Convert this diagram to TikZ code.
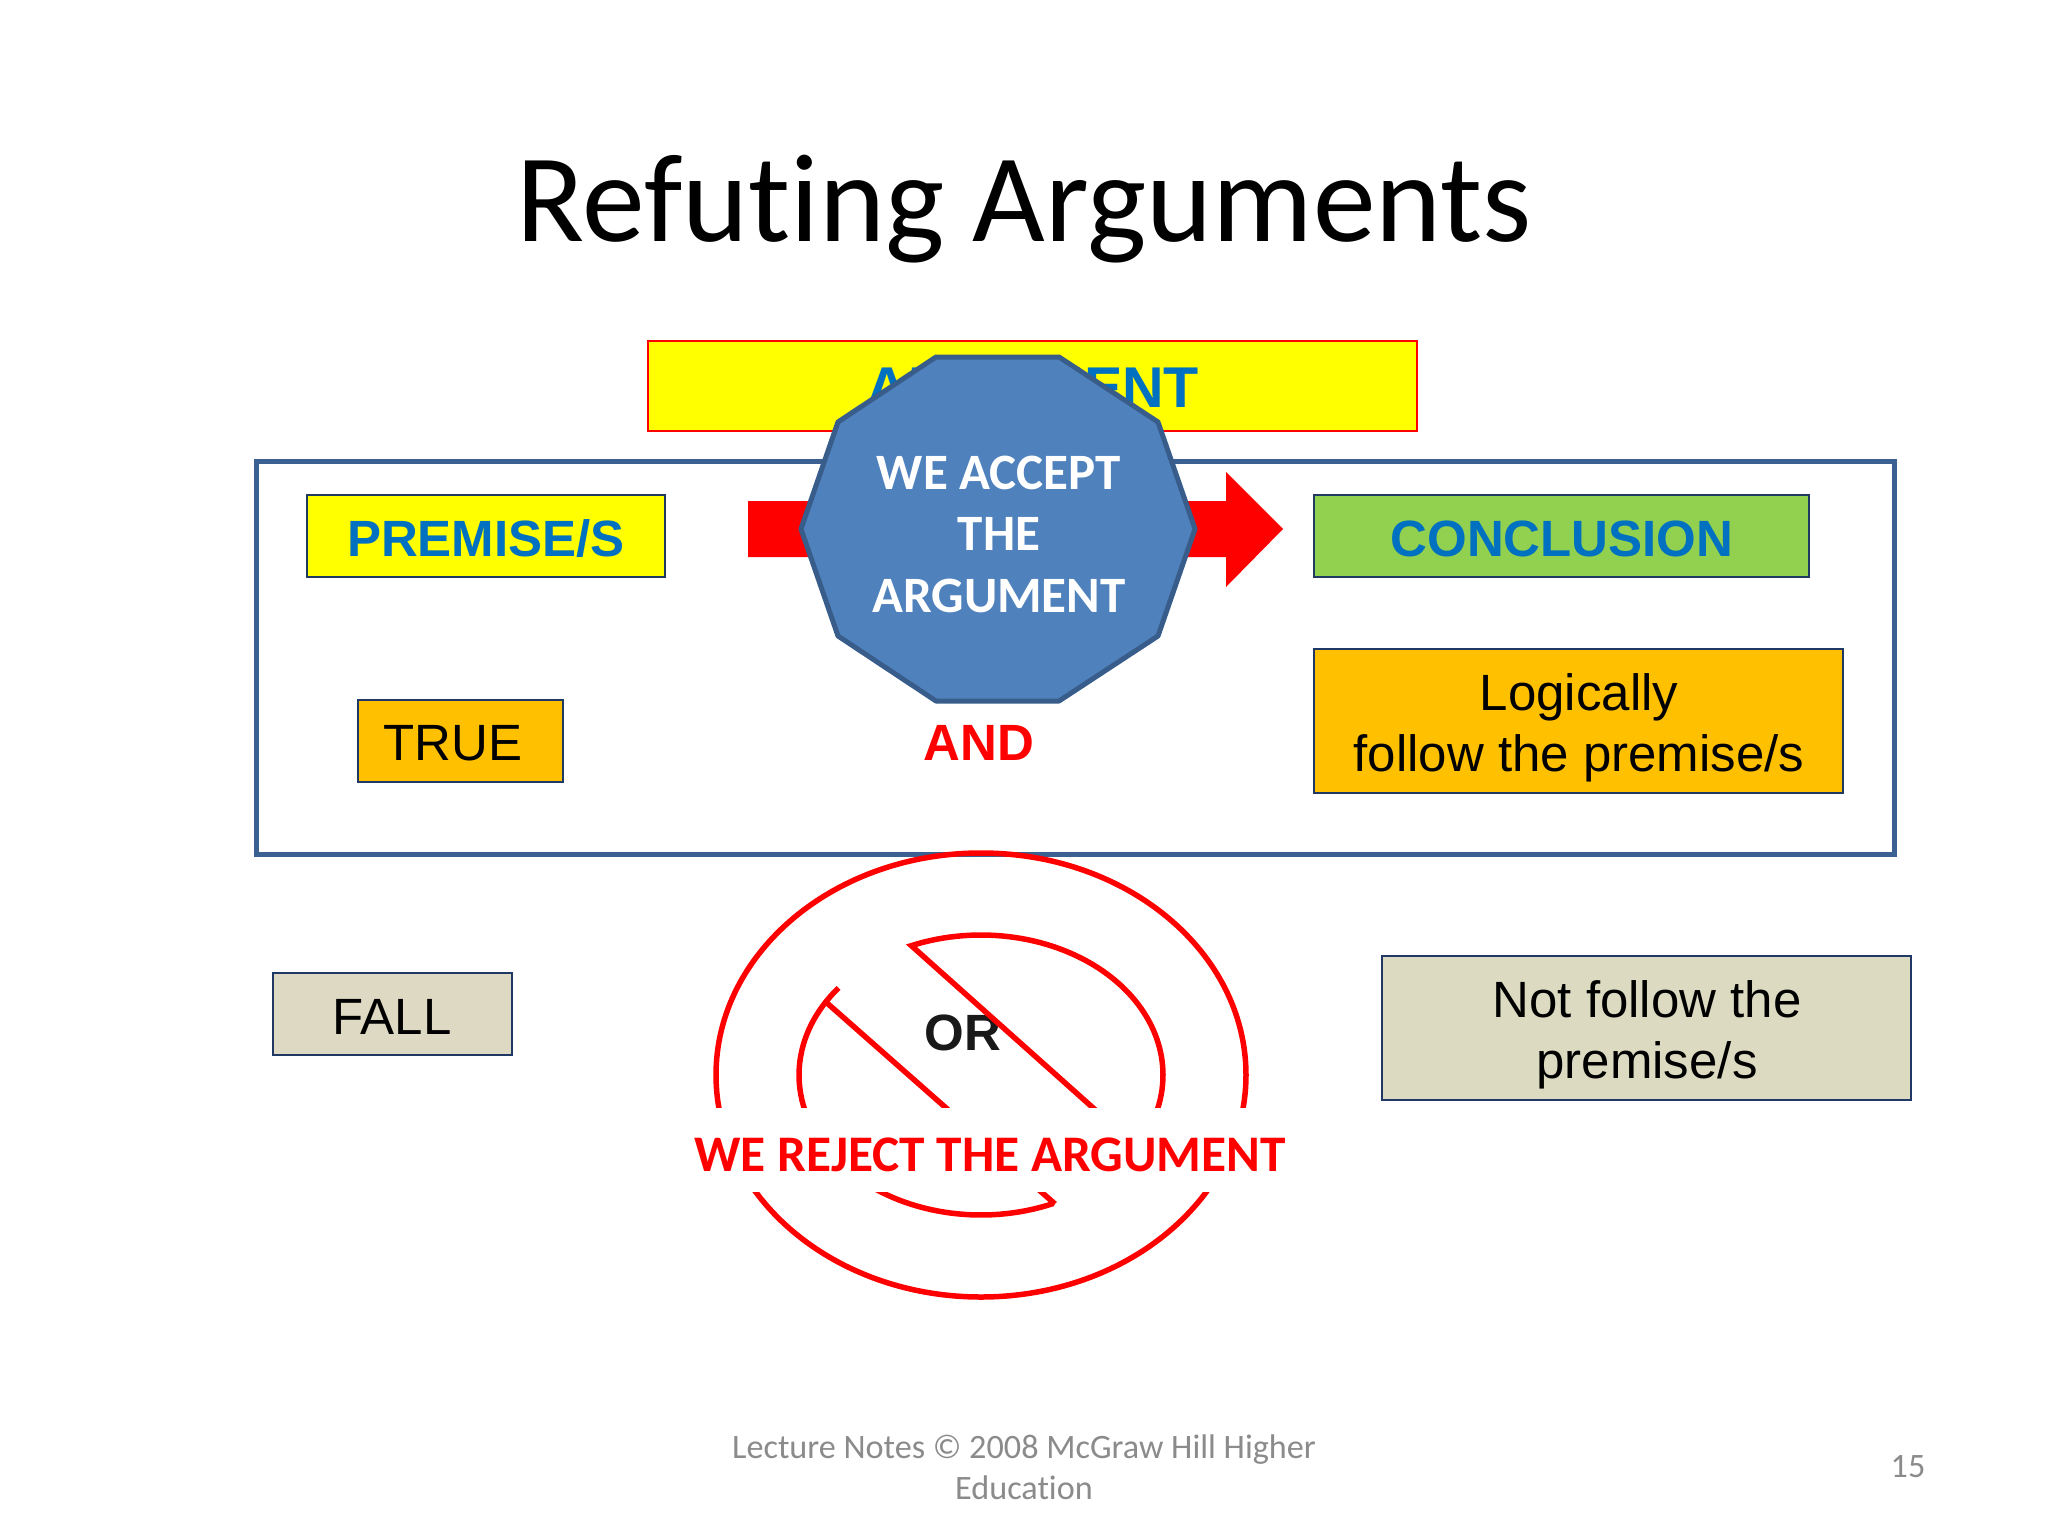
\documentclass[tikz,border=0pt]{standalone}
\usepackage{fontspec}
\setmainfont{Liberation Sans}
\newfontfamily\carl[Ligatures=NoCommon]{Carlito}
\definecolor{pureyellow}{HTML}{FFFF00}
\definecolor{purered}{HTML}{FF0000}
\definecolor{bluetxt}{HTML}{0070C0}
\definecolor{frameblue}{HTML}{3B6192}
\definecolor{octfill}{HTML}{4F81BD}
\definecolor{octline}{HTML}{385D8A}
\definecolor{orangefill}{HTML}{FFC000}
\definecolor{greenfill}{HTML}{92D050}
\definecolor{tanfill}{HTML}{DDD9C3}
\definecolor{sagefill}{HTML}{DCDBC2}
\definecolor{navyline}{HTML}{1F3864}
\definecolor{footgray}{HTML}{8B8B8B}
\tikzset{
  flatbox/.style={draw=navyline,line width=1.6pt,anchor=center,inner sep=0pt},
  headtxt/.style={font=\fontsize{51}{61}\selectfont\bfseries,text=bluetxt,inner sep=0pt},
  plaintxt/.style={font=\fontsize{51}{61.5}\selectfont,text=black,inner sep=0pt,align=center},
  ringline/.style={draw=purered,line width=5.5pt,line join=miter},
  octtxt/.style={font=\carl\fontsize{51}{61.5}\selectfont\bfseries,text=white,inner sep=0pt,align=center},
}
\begin{document}
\begin{tikzpicture}[x=1pt,y=-1pt]
\useasboundingbox (0,0) rectangle (2048,1536);
\fill[white] (0,0) rectangle (2048,1536);
% title
\node[font=\carl\fontsize{125.6}{140}\selectfont,inner sep=0pt] (title) at (1024,209) {Refuting Arguments};
% argument banner
\draw[draw=purered,fill=pureyellow,line width=1.6pt] (648,341) rectangle (1417,431);
\node[headtxt,font=\fontsize{57.5}{66}\selectfont\bfseries] (argtxt) at (1033,388) {ARGUMENT};
% big frame
\draw[draw=frameblue,line width=5pt] (256,461) rectangle (1894,854);
% arrow
\fill[purered] (748,501) -- (1226,501) -- (1226,472) -- (1283,529) -- (1226,587) -- (1226,557) -- (748,557) -- cycle;
% boxes
\draw[flatbox,fill=pureyellow] (307,495) rectangle (665,577);
\node[headtxt] (premise) at (486,539) {PREMISE/S};
\draw[flatbox,fill=orangefill] (358,700) rectangle (563,782);
\node[plaintxt] (true) at (453,743) {TRUE};
\draw[flatbox,fill=greenfill] (1314,495) rectangle (1809,577);
\node[headtxt] (concl) at (1562,539) {CONCLUSION};
\draw[flatbox,fill=orangefill] (1314,649) rectangle (1843,793);
\node[plaintxt] (logic) at (1579,728) {Logically\\follow the premise/s};
\draw[flatbox,fill=tanfill] (273,973) rectangle (512,1055);
\node[plaintxt] (fall) at (392,1017) {FALL};
\draw[flatbox,fill=sagefill] (1382,956) rectangle (1911,1100);
\node[plaintxt] (notf) at (1647,1035) {Not follow the\\premise/s};
% decagon
\draw[draw=octline,fill=octfill,line width=5pt,line join=round]
  (936,357) -- (1059,357) -- (1158,422) -- (1195,529) -- (1158,636) -- (1059,701) -- (936,701) -- (838,636) -- (801,529) -- (838,422) -- cycle;
\node[octtxt] (accept) at (999,534) {WE ACCEPT\\THE\\ARGUMENT};
\node[font=\fontsize{51}{61}\selectfont\bfseries,text=purered,inner sep=0pt] (andtxt) at (979,743) {AND};
\node[font=\fontsize{51}{61}\selectfont\bfseries,text=black!90,inner sep=0pt] (ortxt) at (963,1033) {OR};
% prohibition ring
\draw[ringline] (981,1075) ellipse [x radius=265pt,y radius=222pt];
\draw[ringline] plot[domain=112.5:-31,samples=70] ({981+182*cos(\x)},{1075-140*sin(\x)}) -- cycle;
\draw[ringline] plot[domain=141.5:293.5,samples=70] ({981+182*cos(\x)},{1075-140*sin(\x)});
\draw[ringline] (827,1003) -- (1055,1204);
\fill[white] (690,1108) rectangle (1300,1192);
\node[font=\carl\fontsize{51.3}{60}\selectfont\bfseries,text=purered,inner sep=0pt] (reject) at (990,1155) {WE REJECT THE ARGUMENT};
% footer
\node[font=\carl\fontsize{34.2}{41}\selectfont,text=footgray,align=center,inner sep=0pt] (foot) at (1024,1467) {Lecture Notes © 2008 McGraw Hill Higher\\Education};
\node[font=\carl\fontsize{34.2}{41}\selectfont,text=footgray,inner sep=0pt] (page) at (1908,1467) {15};
\end{tikzpicture}
\end{document}
